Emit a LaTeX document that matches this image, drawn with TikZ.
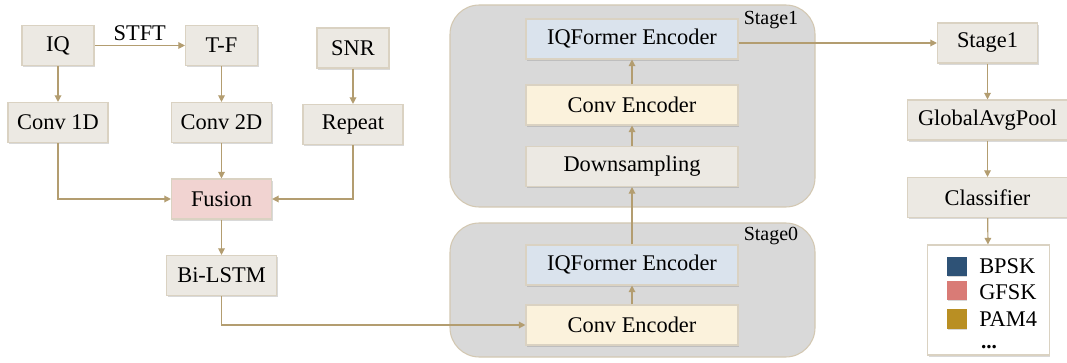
\documentclass[tikz,border=0pt]{standalone}
\usepackage{fontspec}
\setmainfont{Liberation Serif}
\usetikzlibrary{arrows.meta, shadows}
\usepackage{xcolor}
\definecolor{boxgray}{HTML}{ECE9E3}
\definecolor{boxline}{HTML}{DAD2C2}
\definecolor{fusionpink}{HTML}{F1D3D1}
\definecolor{formerblue}{HTML}{DAE3ED}
\definecolor{convyellow}{HTML}{FBF2DC}
\definecolor{panelgray}{HTML}{D9D9D9}
\definecolor{panelline}{HTML}{D3C8B2}
\definecolor{arrowtan}{HTML}{B39D70}
\definecolor{bpskblue}{HTML}{2E5276}
\definecolor{gfskred}{HTML}{D97B76}
\definecolor{pamgold}{HTML}{B98F23}

\begin{document}
\begin{tikzpicture}[
    x=0.75pt, y=-0.75pt,
    every node/.style={align=center, font=\rmfamily\fontsize{16.8}{20}\selectfont},
    block/.style={rectangle, draw=boxline, fill=boxgray, line width=0.8pt, minimum height=30pt, inner sep=2pt,
        drop shadow={shadow xshift=0.8pt, shadow yshift=-1.2pt, opacity=0.3}},
    small/.style={block, minimum width=54pt},
    mid/.style={block, minimum width=75pt},
    wide/.style={block, minimum width=159pt},
    side/.style={block, minimum width=120pt},
    panel/.style={rectangle, rounded corners=22pt, draw=panelline, fill=panelgray, line width=0.8pt, minimum width=273.75pt},
    stagelabel/.style={font=\rmfamily\fontsize{15}{18}\selectfont, inner sep=0pt},
    swatch/.style={rectangle, minimum size=14.5pt, inner sep=0pt,
        drop shadow={shadow xshift=0.6pt, shadow yshift=-0.8pt, opacity=0.3}},
    arrow/.style={-{Triangle[length=5pt, width=5pt]}, arrowtan, line width=0.9pt}
]
\useasboundingbox (0,0) rectangle (1067,363);

% Stage panels
\node[panel, minimum height=151.5pt] (stage1) at (632.5,106) {};
\node[panel, minimum height=100.5pt] (stage0) at (632.5,290) {};
\node[stagelabel] (stage1label) at (771,20) {Stage1};
\node[stagelabel] (stage0label) at (771,236) {Stage0};

% Input branch
\node[small] (iq) at (58,45.5) {IQ};
\node[small] (tf) at (221.5,45.5) {T-F};
\node[small] (snr) at (353,48) {SNR};
\node[mid] (conv1d) at (58,122.5) {Conv 1D};
\node[mid] (conv2d) at (221.5,122.5) {Conv 2D};
\node[mid] (repeat) at (353,124.5) {Repeat};
\node[mid, fill=fusionpink] (fusion) at (221.5,199) {Fusion};
\node[mid, minimum width=82.5pt] (bilstm) at (221.5,275.5) {Bi-LSTM};

% Encoder stages
\node[wide, fill=formerblue] (s1former) at (632,39) {IQFormer Encoder};
\node[wide, fill=convyellow] (s1conv) at (632,105) {Conv Encoder};
\node[wide] (down) at (632,166.5) {Downsampling};
\node[wide, fill=formerblue] (s0former) at (632,265) {IQFormer Encoder};
\node[wide, fill=convyellow] (s0conv) at (632,325) {Conv Encoder};

% Head
\node[mid] (stage1out) at (987.5,43) {Stage1};
\node[side] (gap) at (987.5,120) {GlobalAvgPool};
\node[side] (classifier) at (987.5,197.5) {Classifier};
\node[rectangle, draw=boxline, fill=white, line width=0.8pt, minimum width=91pt, minimum height=82.5pt,
    drop shadow={shadow xshift=0.8pt, shadow yshift=-1.2pt, opacity=0.3}] (legend) at (988.5,300) {};
\node[swatch, fill=bpskblue] (bpsk) at (957,266.5) {};
\node[swatch, fill=gfskred] (gfsk) at (957,290.5) {};
\node[swatch, fill=pamgold] (pam) at (957,319) {};
\node[anchor=west, inner sep=0pt] (bpsktext) at (979,266.5) {BPSK};
\node[anchor=west, inner sep=0pt] (gfsktext) at (979,292) {GFSK};
\node[anchor=west, inner sep=0pt] (pamtext) at (979,319) {PAM4};
\node[inner sep=0pt, text height=3pt, text depth=0pt, font=\rmfamily\bfseries\fontsize{16}{16}\selectfont] (more) at (989,347) {...};

% Arrows
\draw[arrow] (iq) -- node[above, text=black] {STFT} (tf);
\draw[arrow] (iq) -- (conv1d);
\draw[arrow] (tf) -- (conv2d);
\draw[arrow] (snr) -- (repeat);
\draw[arrow] (conv1d) |- (fusion);
\draw[arrow] (conv2d) -- (fusion);
\draw[arrow] (repeat) |- (fusion);
\draw[arrow] (fusion) -- (bilstm);
\draw[arrow] (bilstm.south) |- (s0conv);
\draw[arrow] (s0conv) -- (s0former);
\draw[arrow] (s0former) -- (down);
\draw[arrow] (down) -- (s1conv);
\draw[arrow] (s1conv) -- (s1former);
\draw[arrow] (s1former.east |- stage1out) -- (stage1out);
\draw[arrow] (stage1out) -- (gap);
\draw[arrow] (gap) -- (classifier);
\draw[arrow] (classifier) -- (legend);

\end{tikzpicture}
\end{document}
